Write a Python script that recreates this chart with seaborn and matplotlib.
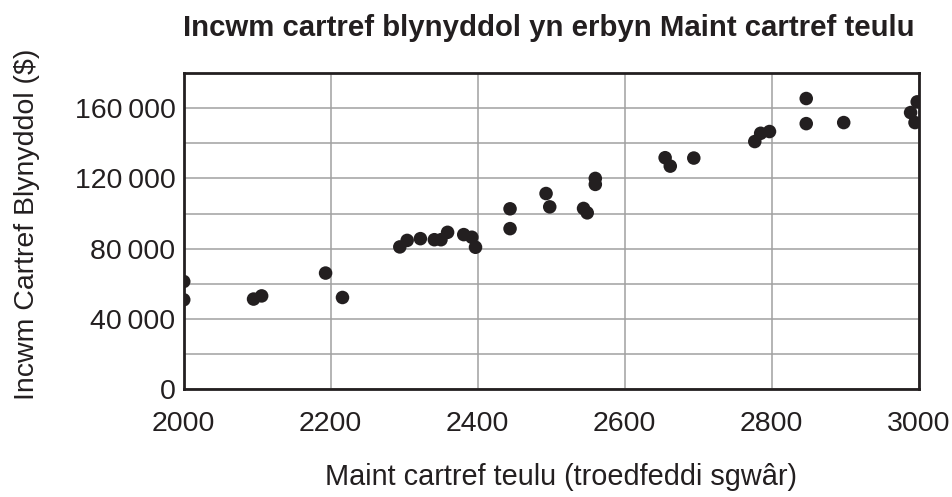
import numpy as np
import pandas as pd
import matplotlib
matplotlib.use('Agg')
import matplotlib.pyplot as plt
import seaborn as sns

# Maint cartref (troedfeddi sgwâr) ac incwm blynyddol ($)
maint = [2000, 2000, 2095, 2106, 2193, 2216,
         2294, 2304, 2322, 2341, 2350, 2359, 2381, 2392, 2397,
         2444, 2444, 2493, 2498, 2544, 2549, 2560, 2560,
         2655, 2662, 2694, 2777, 2785, 2797,
         2847, 2847, 2898, 2989, 2998, 2995]
incwm = [61300, 50900, 51300, 53100, 66100, 52200,
         81000, 84700, 85700, 85100, 85100, 89300, 88000, 86500, 80800,
         102700, 91400, 111400, 103800, 102900, 100400, 120000, 116600,
         131800, 127000, 131600, 141000, 145700, 146700,
         165500, 151200, 151800, 157500, 163600, 151800]

df = pd.DataFrame({'maint': maint, 'incwm': incwm})

sns.set_style('white')
plt.rcParams['font.family'] = ['Liberation Sans', 'DejaVu Sans']
txt = '#231f20'

fig = plt.figure(figsize=(9.52, 4.97), dpi=100)
ax = fig.add_axes([0.193, 0.217, 0.772, 0.636])

sns.scatterplot(data=df, x='maint', y='incwm', color=txt, s=95,
                edgecolor='none', ax=ax, zorder=3, clip_on=True)

ax.set_xlim(2000, 3000)
ax.set_ylim(0, 180000)
ax.set_xticks(np.arange(2000, 3001, 200))
ax.set_yticks(np.arange(0, 180001, 20000), minor=True)
ax.set_yticks(np.arange(0, 160001, 40000))
ax.set_yticklabels([f'{v:,}'.replace(',', '\u2009') if v else '0'
                    for v in range(0, 160001, 40000)])
ax.grid(True, which='both', axis='y', color='#a0a0a0', lw=1.1)
ax.grid(True, which='major', axis='x', color='#a0a0a0', lw=1.1)
ax.set_axisbelow(True)
ax.tick_params(which='both', length=0, labelsize=20.5, colors=txt)
ax.tick_params(axis='x', pad=15.5)
ax.tick_params(axis='y', pad=6)
for sp in ax.spines.values():
    sp.set_color(txt)
    sp.set_linewidth(2)

ax.set_xlabel('Maint cartref teulu (troedfeddi sgwâr)', fontsize=20.8,
              color=txt)
ax.xaxis.set_label_coords(0.514, -0.235)
ax.set_ylabel('Incwm Cartref Blynyddol ($)', fontsize=20.5, color=txt)
ax.yaxis.set_label_coords(-0.196, 0.52)
fig.text(0.576, 1 - 28 / 497, 'Incwm cartref blynyddol yn erbyn Maint cartref teulu',
         fontsize=21.2, fontweight='bold', color=txt, ha='center', va='center')

fig.savefig('out.png', dpi=100)
